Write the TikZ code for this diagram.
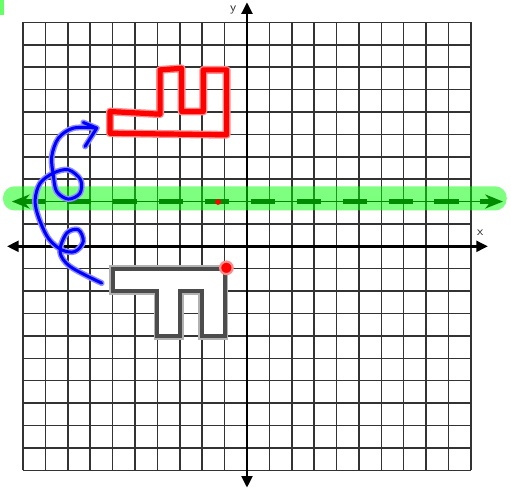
\documentclass[tikz,border=0pt]{standalone}
\usepackage{tikz}
\usetikzlibrary{arrows.meta,positioning}

\begin{document}
\begin{tikzpicture}[x=5mm, y=5mm,
  font=\footnotesize\sffamily,
  gridline/.style={black!80, line width=0.95pt},
  axis/.style={black, line width=1.8pt,
    {Triangle[length=2.6mm, width=2.4mm]}-{Triangle[length=2.6mm, width=2.4mm]}},
  axlabel/.style={inner sep=0pt, text=black!85},
  oldshape/.style={fill=white, draw=black!70, line width=2.6pt, line join=miter},
  oldblur/.style={draw=black!30, line width=4.8pt, line join=miter},
  band/.style={fill=green, opacity=0.5, rounded corners=2.6mm},
  guide/.style={green!55!black, line width=0.9pt,
    {Stealth[length=4mm, width=3.2mm]}-{Stealth[length=4mm, width=3.2mm]}},
  guidedash/.style={green!55!black, line width=3.6pt,
    dash pattern=on 15.6pt off 13.6pt},
  redglow/.style={red!45, line width=5pt, line join=round, line cap=round},
  redpen/.style={red, line width=3.3pt, line join=round, line cap=round},
  blueglow/.style={blue!45, line width=3.8pt, line join=round, line cap=round},
  bluepen/.style={blue, line width=1.9pt, line join=round, line cap=round},
  bigdot/.style={circle, fill=red, draw=red!45, line width=1.4pt,
    minimum size=2.8mm, inner sep=0pt},
  smalldot/.style={circle, fill=red, minimum size=1.3mm, inner sep=0pt},
]
\useasboundingbox (-11.03,-10.92) rectangle (11.79,11.0);

% corner mark
\fill[green!60] (-11.03,11.0) rectangle ++(0.18,-0.67);

% Grid
\draw[gridline, step=5mm] (-10,-10) grid (10,10);

% Original figure (grey)
\draw[oldblur] (-6,-1) -- (-1,-1) -- (-1,-4) -- (-2,-4) -- (-2,-2) -- (-3,-2)
  -- (-3,-4) -- (-4,-4) -- (-4,-2) -- (-6,-2) -- cycle;
\filldraw[oldshape] (-6,-1) -- (-1,-1) -- (-1,-4) -- (-2,-4) -- (-2,-2) -- (-3,-2)
  -- (-3,-4) -- (-4,-4) -- (-4,-2) -- (-6,-2) -- cycle;

% Axes
\coordinate (xl) at (-10.72,0);
\coordinate (xr) at (10.76,0);
\coordinate (yb) at (0,-10.78);
\coordinate (yt) at (0,10.9);
\draw[axis] (xl) -- (xr);
\draw[axis] (yb) -- (yt);
\node[axlabel] (xlabel) at (10.42,0.62) {x};
\node[axlabel] (ylabel) at (-0.62,10.56) {y};

% Line of reflection y = 2
\fill[band] (-10.9,1.6) rectangle (11.6,2.68);
\coordinate (gl) at (-10.5,2);
\coordinate (gr) at (11.43,2);
\draw[guide] (gl) -- (gr);
\draw[guidedash] (-10.1,2) -- (10.9,2);

% Image (red)
\draw[redglow] (-6.12,5.05) -- (-6.12,6.02) -- (-3.88,5.9) -- (-3.88,7.88)
  -- (-2.92,7.95) -- (-2.92,6.02) -- (-1.95,6.02) -- (-1.95,7.88)
  -- (-0.91,7.88) -- (-0.91,4.98) -- cycle;
\draw[redpen] (-6.12,5.05) -- (-6.12,6.02) -- (-3.88,5.9) -- (-3.88,7.88)
  -- (-2.92,7.95) -- (-2.92,6.02) -- (-1.95,6.02) -- (-1.95,7.88)
  -- (-0.91,7.88) -- (-0.91,4.98) -- cycle;

% Points
\node[bigdot] (pivot) at (-0.92,-0.96) {};
\node[smalldot] (mid) at (-1.29,1.98) {};

% Flip arrow (blue)
\coordinate (tip) at (-6.71,5.28);
\foreach \pen in {blueglow, bluepen} {
  \draw[\pen] plot[smooth, tension=0.55] coordinates {
    (-6.49,-1.64) (-7.90,-0.90) (-8.35,-0.23) (-8.05,0.59) (-7.53,0.74)
    (-7.31,0.22) (-7.68,-0.23) (-8.27,-0.16) (-8.87,0.36) (-9.32,1.33)
    (-9.46,2.08) (-9.24,2.82) (-8.65,3.27) (-7.98,3.42) (-7.43,2.97)
    (-7.46,2.37) (-7.98,2.11) (-8.50,2.45) (-8.65,3.19) (-8.72,4.01)
    (-8.42,4.83) (-7.75,5.28) (tip)};
  \draw[\pen] (-7.31,5.53) -- (tip) -- (-7.23,4.46);
}
\end{tikzpicture}
\end{document}
